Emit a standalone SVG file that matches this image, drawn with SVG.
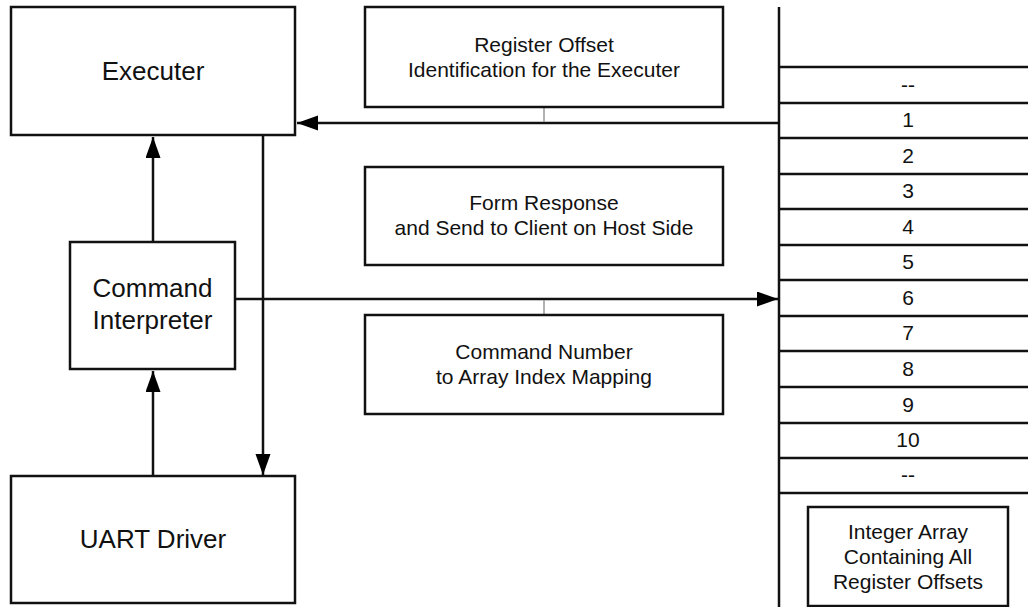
<svg xmlns="http://www.w3.org/2000/svg" width="1028" height="607" viewBox="0 0 1028 607">
<style>
.box{fill:#fff;stroke:#111;stroke-width:2.5}
.big{font-family:"Liberation Sans",Arial,sans-serif;font-size:26px;fill:#111;text-anchor:middle}
.sm{font-family:"Liberation Sans",Arial,sans-serif;font-size:21px;fill:#111;text-anchor:middle}
.ln{stroke:#111;stroke-width:2.5;fill:none}
.gr{stroke:#999;stroke-width:1.5;fill:none}
.row{stroke:#111;stroke-width:2.5}
</style>
<defs>
<marker id="ah" markerUnits="userSpaceOnUse" markerWidth="22" markerHeight="16" refX="21" refY="7.5" orient="auto">
<path d="M0,0 L21,7.5 L0,15 Z" fill="#000"/>
</marker>
</defs>
<rect width="1028" height="607" fill="#fff"/>
<g id="connectors">
<line class="ln" x1="779" y1="123" x2="297" y2="123" marker-end="url(#ah)"/>
<line class="ln" x1="153" y1="241" x2="153" y2="137" marker-end="url(#ah)"/>
<line class="ln" x1="263" y1="135" x2="263" y2="475" marker-end="url(#ah)"/>
<line class="ln" x1="235" y1="299" x2="778" y2="299" marker-end="url(#ah)"/>
<line class="ln" x1="153" y1="476" x2="153" y2="371" marker-end="url(#ah)"/>
<line class="gr" x1="544" y1="107" x2="544" y2="122"/>
<line class="gr" x1="544" y1="300" x2="544" y2="315"/>
</g>
<g id="executer">
<rect class="box" x="11" y="7" width="284" height="128"/>
<text class="big" x="153" y="80">Executer</text>
</g>
<g id="command-interpreter">
<rect class="box" x="70" y="242" width="165" height="127"/>
<text class="big" x="152.5" y="297">Command</text>
<text class="big" x="152.5" y="329">Interpreter</text>
</g>
<g id="uart-driver">
<rect class="box" x="11" y="476" width="284" height="127"/>
<text class="big" x="153" y="548">UART Driver</text>
</g>
<g id="register-offset-id">
<rect class="box" x="365" y="7" width="358" height="100"/>
<text class="sm" x="544" y="52">Register Offset</text>
<text class="sm" x="544" y="77">Identification for the Executer</text>
</g>
<g id="form-response">
<rect class="box" x="365" y="167" width="358" height="98"/>
<text class="sm" x="544" y="210">Form Response</text>
<text class="sm" x="544" y="235">and Send to Client on Host Side</text>
</g>
<g id="command-number-mapping">
<rect class="box" x="365" y="315" width="358" height="99"/>
<text class="sm" x="544" y="359">Command Number</text>
<text class="sm" x="544" y="384">to Array Index Mapping</text>
</g>
<g id="integer-array">
<line class="row" x1="779" y1="7" x2="779" y2="607"/>
<line class="row" x1="779" y1="67" x2="1028" y2="67"/>
<line class="row" x1="779" y1="103" x2="1028" y2="103"/>
<line class="row" x1="779" y1="138" x2="1028" y2="138"/>
<line class="row" x1="779" y1="174" x2="1028" y2="174"/>
<line class="row" x1="779" y1="209" x2="1028" y2="209"/>
<line class="row" x1="779" y1="245" x2="1028" y2="245"/>
<line class="row" x1="779" y1="280" x2="1028" y2="280"/>
<line class="row" x1="779" y1="316" x2="1028" y2="316"/>
<line class="row" x1="779" y1="351" x2="1028" y2="351"/>
<line class="row" x1="779" y1="387" x2="1028" y2="387"/>
<line class="row" x1="779" y1="423" x2="1028" y2="423"/>
<line class="row" x1="779" y1="458" x2="1028" y2="458"/>
<line class="row" x1="779" y1="493" x2="1028" y2="493"/>
<text class="sm" x="908" y="92">--</text>
<text class="sm" x="908" y="127">1</text>
<text class="sm" x="908" y="163">2</text>
<text class="sm" x="908" y="198">3</text>
<text class="sm" x="908" y="234">4</text>
<text class="sm" x="908" y="269">5</text>
<text class="sm" x="908" y="305">6</text>
<text class="sm" x="908" y="340">7</text>
<text class="sm" x="908" y="376">8</text>
<text class="sm" x="908" y="412">9</text>
<text class="sm" x="908" y="447">10</text>
<text class="sm" x="908" y="482">--</text>
</g>
<g id="array-label">
<rect class="box" x="808" y="507" width="200" height="99"/>
<text class="sm" x="908" y="539">Integer Array</text>
<text class="sm" x="908" y="564">Containing All</text>
<text class="sm" x="908" y="589">Register Offsets</text>
</g>
</svg>
